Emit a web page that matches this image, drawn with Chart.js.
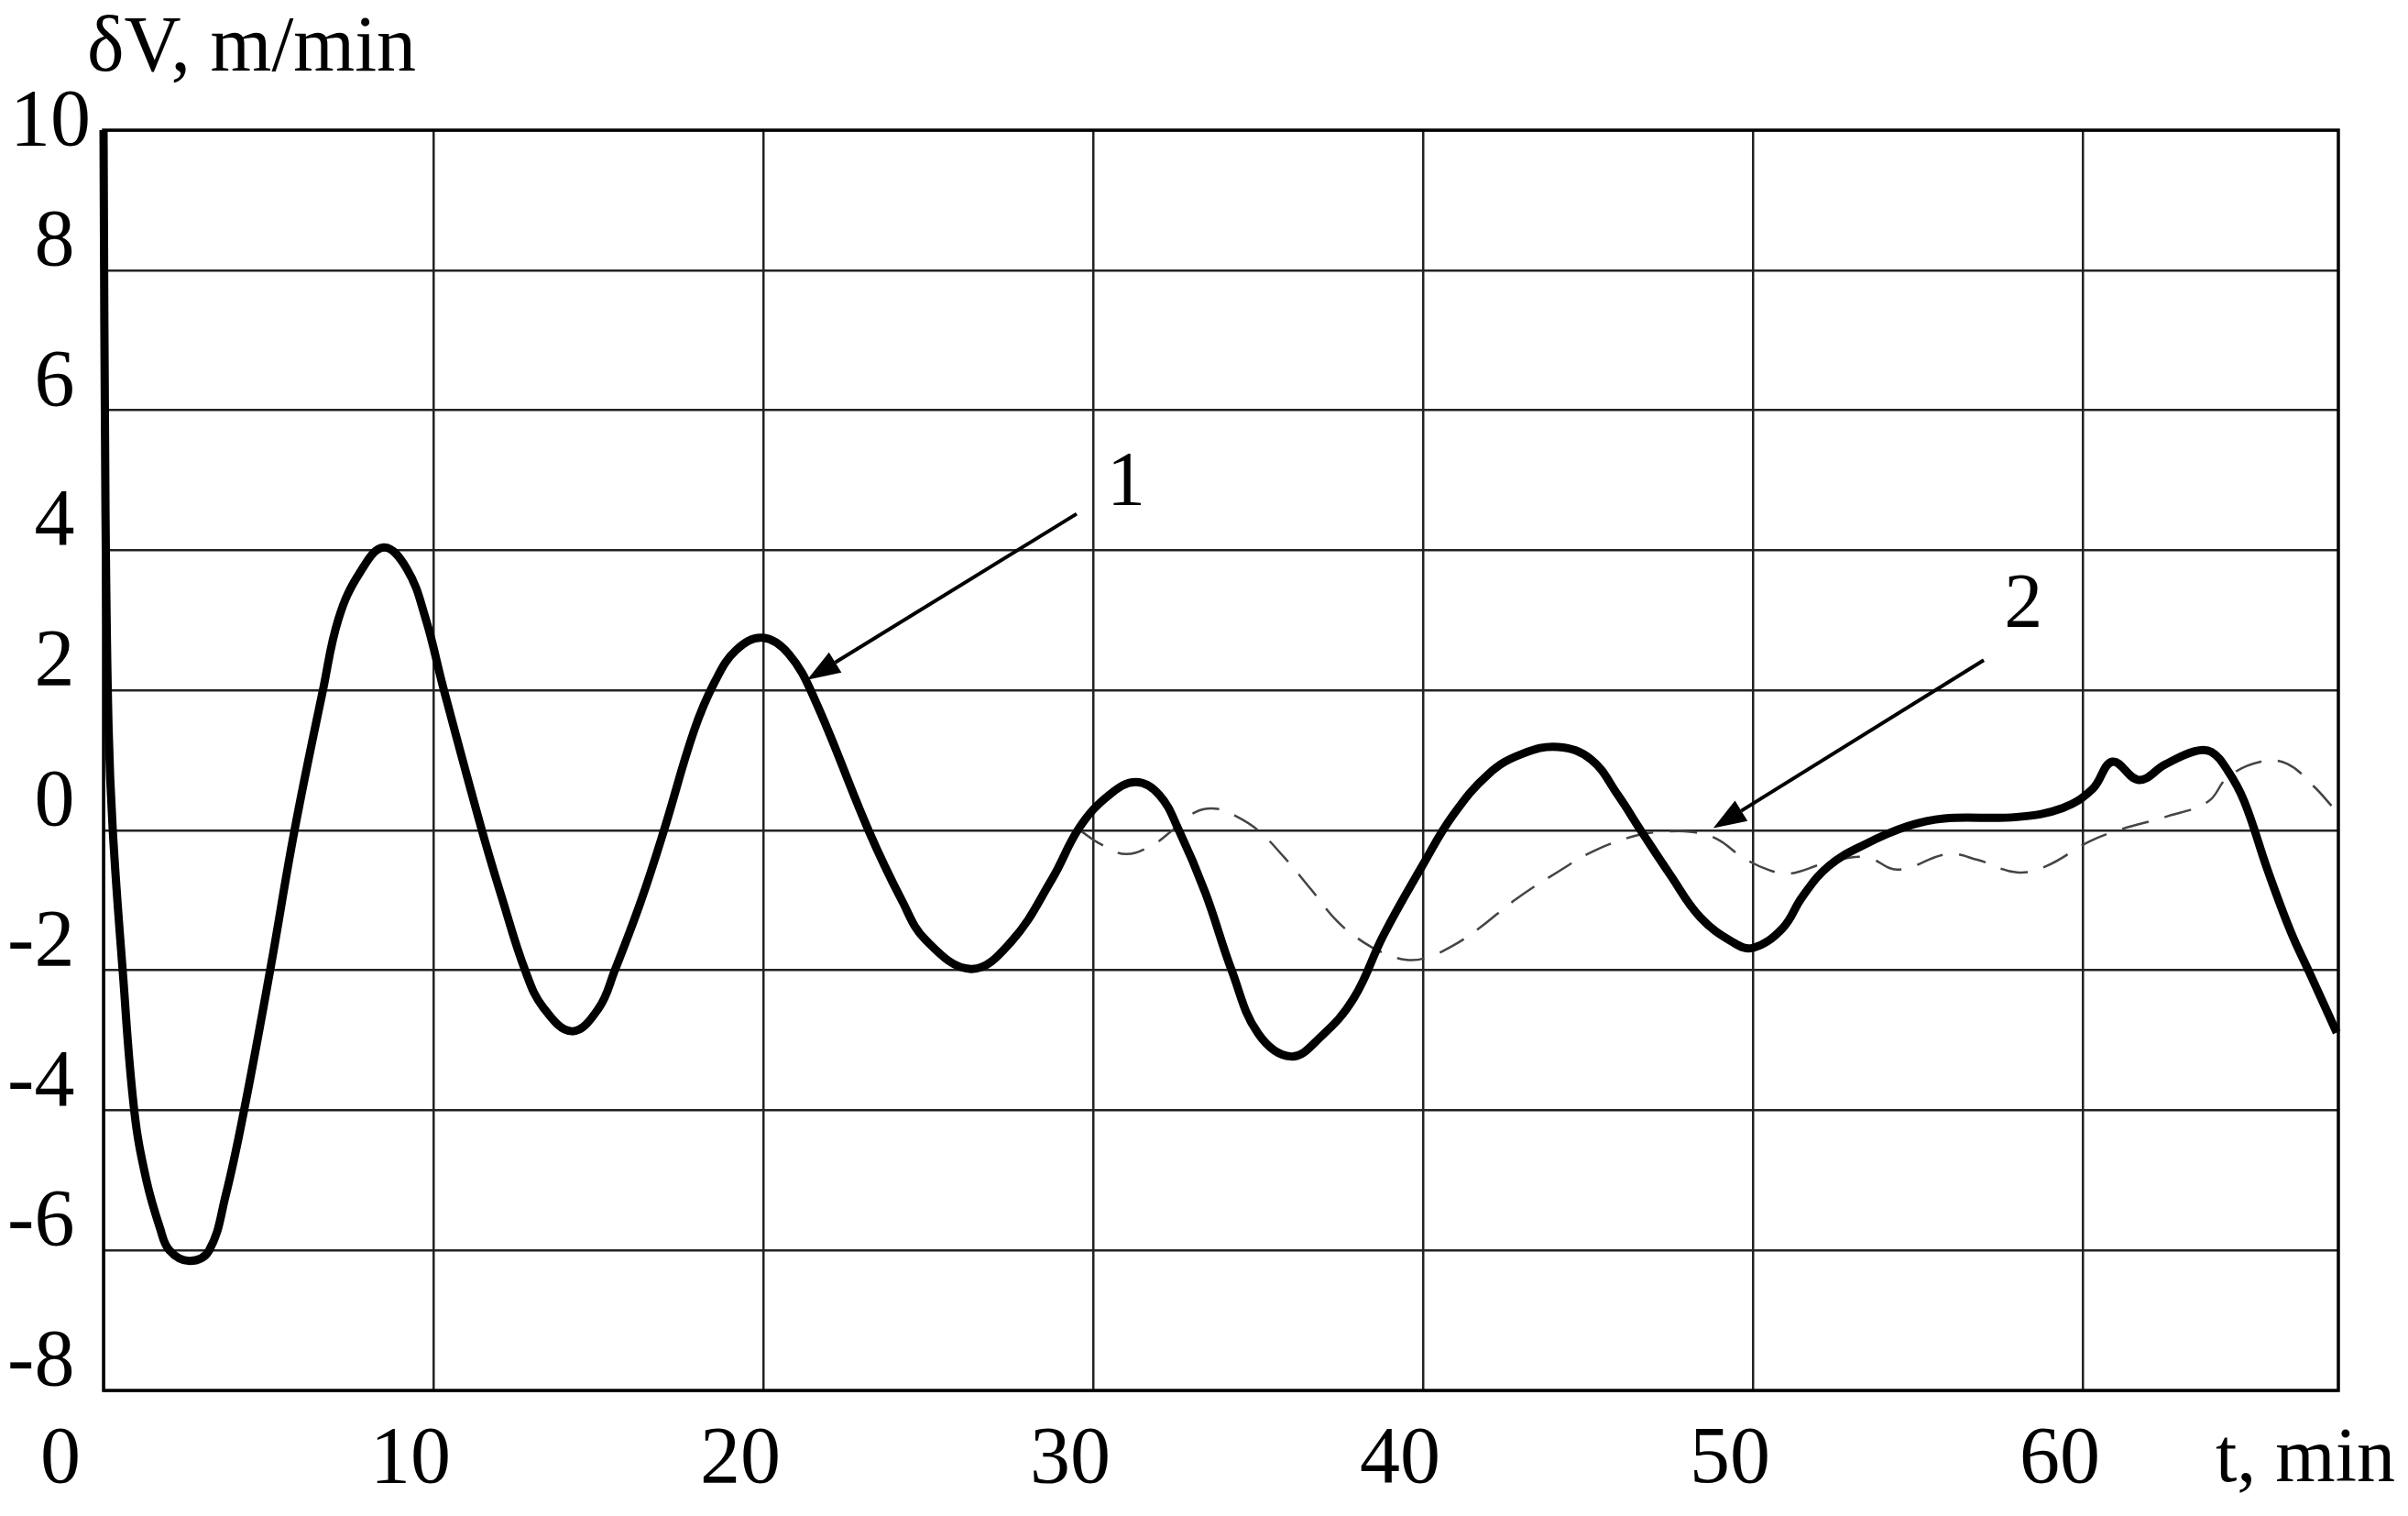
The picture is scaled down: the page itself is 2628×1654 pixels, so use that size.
<!DOCTYPE html>
<html>
<head>
<meta charset="utf-8">
<style>
  html, body { margin: 0; padding: 0; background: #fff; }
  #wrap { width: 2628px; height: 1654px; }
</style>
<script src="https://cdn.jsdelivr.net/npm/chart.js@4.4.1/dist/chart.umd.min.js"></script>
</head>
<body>
<div id="wrap"><canvas id="chart"></canvas></div>
<script>
// curve 1 (solid, thick)
var t1 = [0, 0.06, 0.15, 0.28, 0.58, 0.93, 1.3, 1.71, 2.0, 2.6, 3.2, 3.7, 4.26, 5.05, 5.79, 6.65, 7.13, 7.77, 8.49,
  9.2, 9.76, 10.32, 11.47, 12.1, 12.78, 13.33, 14.2, 15.0, 15.5, 16.3, 16.99, 17.9, 18.53, 19.17, 19.97,
  20.77, 21.56, 23.19, 24.2, 24.93, 26.3, 27.5, 28.75, 29.6, 30.5, 31.3, 32.0, 32.6, 33.4, 34.2, 35.0, 36.0,
  36.9, 37.9, 38.8, 40.0, 40.9, 42.0, 43.0, 44.1, 45.1, 45.9, 46.6, 47.5, 48.4, 49.4, 50.0, 50.9, 51.5, 52.3,
  53.4, 54.7, 55.8, 58.0, 59.4, 60.3, 60.9, 61.7, 62.5, 63.4, 63.9, 64.4, 64.9, 65.6, 66.3, 66.9, 67.7];
var v1 = [10, 4.5, 1.5, 0, -2, -4, -5.0, -5.68, -6.0, -6.15, -6.0, -5.22, -4, -2, 0, 2, 3.03, 3.68, 4.04,
  3.73, 3.03, 2, 0, -1, -2, -2.53, -2.87, -2.55, -2, -1, 0, 1.42, 2.12, 2.57, 2.75,
  2.52, 1.87, 0, -1, -1.57, -1.98, -1.6, -0.7, 0.05, 0.51, 0.69, 0.51, 0, -0.89, -2.0, -2.9, -3.23,
  -2.95, -2.4, -1.5, -0.49, 0.21, 0.81, 1.09, 1.19, 1.01, 0.51, 0, -0.64, -1.24, -1.6, -1.68, -1.4, -0.95, -0.51,
  -0.2, 0.06, 0.17, 0.19, 0.32, 0.59, 0.98, 0.72, 0.94, 1.13, 1.12, 0.85, 0.41, -0.56, -1.44, -2.06, -2.89];

// curve 2 (dashed, thin)
var t2 = [29.6, 30.2, 31.0, 31.8, 32.4, 33.1, 33.7, 34.3, 35.0, 35.8, 36.6, 37.4, 38.2, 38.8, 39.5, 40.1, 40.9,
  41.7, 42.8, 44.1, 45.2, 46.5, 47.3, 48.1, 48.9, 49.7, 50.5, 51.1, 52.2, 53.4, 54.4, 55.9, 56.8, 58.0, 58.9,
  60.2, 61.2, 62.5, 63.8, 64.4, 65.4, 66.2, 67.0, 67.6];
var v2 = [0, -0.19, -0.34, -0.21, 0, 0.26, 0.31, 0.21, 0, -0.39, -0.84, -1.3, -1.6, -1.75, -1.85, -1.82, -1.65,
  -1.4, -0.99, -0.59, -0.29, -0.07, -0.02, -0.02, -0.12, -0.39, -0.57, -0.62, -0.47, -0.38, -0.56, -0.34, -0.42, -0.6, -0.51,
  -0.16, 0.02, 0.19, 0.41, 0.76, 0.98, 0.95, 0.63, 0.32];

var tMin = 0, tMax = 67.75;
var vMin = -8, vMax = 10;

// pointer arrows: tail, tip and number, in data units
var markNames = ['1', '2'];
var markTails = [[29.5, 4.52], [57.0, 2.43]];
var markTips = [[21.33, 2.15], [48.8, 0.03]];
var markText = [[31.0, 4.94], [58.2, 3.2]];

var yTitle = 'δV, m/min';
var xTitle = 't, min';

function pts(xs, ys) {
    var out = [];
    for (var i = 0; i < xs.length; i++) out.push({ x: xs[i], y: ys[i] });
    return out;
}

var serif = '"Liberation Serif", "DejaVu Serif", serif';

var extras = {
    id: 'extras',
    beforeDatasetsDraw: function (chart) {
        var a = chart.chartArea, ctx = chart.ctx;
        ctx.save();
        ctx.strokeStyle = '#000';
        ctx.lineWidth = 3.5;
        ctx.strokeRect(a.left, a.top, a.right - a.left, a.bottom - a.top);
        ctx.restore();
    },
    afterDatasetsDraw: function (chart) {
        var ctx = chart.ctx, xs = chart.scales.x, ys = chart.scales.y, a = chart.chartArea;
        ctx.save();
        ctx.strokeStyle = '#000';
        ctx.fillStyle = '#000';
        for (var i = 0; i < markNames.length; i++) {
            var x0 = xs.getPixelForValue(markTails[i][0]), y0 = ys.getPixelForValue(markTails[i][1]);
            var x1 = xs.getPixelForValue(markTips[i][0]), y1 = ys.getPixelForValue(markTips[i][1]);
            var ang = Math.atan2(y1 - y0, x1 - x0);
            var len = 36, half = 13;
            var bx = x1 - len * Math.cos(ang), by = y1 - len * Math.sin(ang);
            ctx.lineWidth = 4;
            ctx.beginPath();
            ctx.moveTo(x0, y0);
            ctx.lineTo(bx, by);
            ctx.stroke();
            ctx.beginPath();
            ctx.moveTo(x1, y1);
            ctx.lineTo(bx + half * Math.sin(ang), by - half * Math.cos(ang));
            ctx.lineTo(bx - half * Math.sin(ang), by + half * Math.cos(ang));
            ctx.closePath();
            ctx.fill();

            ctx.font = '84px ' + serif;
            ctx.textAlign = 'center';
            ctx.textBaseline = 'middle';
            ctx.fillText(markNames[i], xs.getPixelForValue(markText[i][0]), ys.getPixelForValue(markText[i][1]));
        }
        ctx.font = '86px ' + serif;
        ctx.textAlign = 'left';
        ctx.textBaseline = 'alphabetic';
        ctx.fillText(yTitle, a.left - 18, a.top - 65);
        ctx.font = '84px ' + serif;
        ctx.fillText(xTitle, a.right - 134, a.bottom + 99);
        ctx.restore();
    }
};

var ctx = document.getElementById('chart');
var myChart = new Chart(ctx, {
    type: 'line',
    data: {
        datasets: [{
            label: '1',
            data: pts(t1, v1),
            borderColor: '#000',
            borderWidth: 9,
            pointRadius: 0,
            tension: 0.4,
            clip: false,
            order: 1
        }, {
            label: '2',
            data: pts(t2, v2),
            borderColor: '#444',
            borderWidth: 2.5,
            borderDash: [30, 18],
            pointRadius: 0,
            tension: 0.4,
            order: 2
        }]
    },
    options: {
        responsive: true,
        maintainAspectRatio: false,
        devicePixelRatio: 1,
        animation: false,
        layout: { padding: { top: 142, right: 76, left: 0, bottom: 0 } },
        plugins: {
            legend: { display: false },
            tooltip: { enabled: false }
        },
        scales: {
            x: {
                type: 'linear',
                min: tMin,
                max: tMax,
                afterFit: function (scale) { scale.height = 137; },
                grid: { color: '#222', lineWidth: 2.5, drawTicks: false },
                border: { display: false },
                ticks: {
                    stepSize: 10,
                    includeBounds: false,
                    padding: 24,
                    labelOffset: -25,
                    maxRotation: 0,
                    color: '#000',
                    font: { family: serif, size: 88 },
                    callback: function (v) { return v === 0 ? '0\u2002' : String(v); }
                }
            },
            y: {
                type: 'linear',
                min: vMin,
                max: vMax,
                afterFit: function (scale) { scale.width = 113; },
                grid: { color: '#222', lineWidth: 2.5, drawTicks: false },
                border: { display: false },
                ticks: {
                    stepSize: 2,
                    padding: 14,
                    labelOffset: -29,
                    color: '#000',
                    font: { family: serif, size: 88, lineHeight: 0.5 },
                    callback: function (v) { return v === 10 ? ['', '10'] : String(v) + '\u2009'; }
                }
            }
        }
    },
    plugins: [extras]
});
</script>
</body>
</html>
